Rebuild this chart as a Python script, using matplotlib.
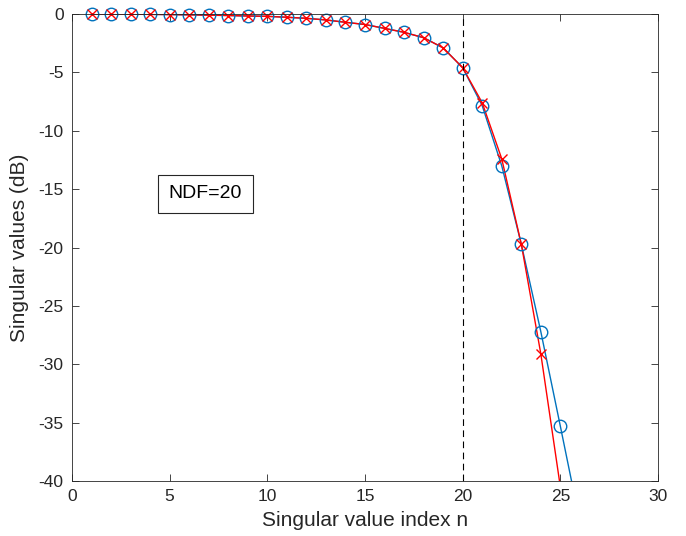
import matplotlib.pyplot as plt
import numpy as np

plt.rcParams["font.family"] = ["Liberation Sans", "DejaVu Sans"]
plt.rcParams["axes.unicode_minus"] = False

# singular values (dB)
n_blue = np.arange(1, 27)
sv_blue = np.array([0.0, -0.01, -0.02, -0.03, -0.05, -0.07, -0.1, -0.13, -0.17, -0.2,
                    -0.28, -0.37, -0.51, -0.71, -0.9, -1.23, -1.57, -2.03, -2.9, -4.6,
                    -7.85, -13.0, -19.7, -27.2, -35.3, -43.5])
n_red = np.arange(1, 26)
sv_red = np.array([0.0, -0.01, -0.02, -0.03, -0.05, -0.07, -0.1, -0.13, -0.17, -0.2,
                   -0.28, -0.37, -0.51, -0.71, -0.9, -1.23, -1.57, -2.03, -2.9, -4.6,
                   -7.6, -12.4, -19.7, -29.1, -40.5])
NDF = 20
YMIN, YMAX = -40, 0

BLUE = "#0072BD"
RED = "#FF0000"
AX_COLOR = "#262626"

fig = plt.figure(figsize=(6.86, 5.36), dpi=100)
ax = fig.add_axes([72 / 686, 1 - 481 / 536, (658 - 72) / 686, (481 - 14) / 536])

# lines are clipped to the axes, markers inside the range are not (MATLAB-like)
ax.plot(n_blue, sv_blue, color=BLUE, linewidth=1.0)
ax.plot(n_red, sv_red, color=RED, linewidth=1.0)
mb = sv_blue >= YMIN
mr = sv_red >= YMIN
ax.plot(n_blue[mb], sv_blue[mb], linestyle="none", marker="o", markersize=9,
        markerfacecolor="none", markeredgecolor=BLUE, markeredgewidth=1.0, clip_on=False)
ax.plot(n_red[mr], sv_red[mr], linestyle="none", marker="x", markersize=7,
        markeredgecolor=RED, markeredgewidth=1.0, clip_on=False)
ax.axvline(NDF, color="black", linestyle=(0, (6, 4)), linewidth=0.8)

ax.text(4.95, -15.4, f"NDF={NDF}", fontsize=14, va="center", ha="left",
        bbox=dict(boxstyle="square,pad=0.55", facecolor="white",
                  edgecolor=AX_COLOR, linewidth=0.8))

ax.set_xlim(0, 30)
ax.set_ylim(YMIN, YMAX)
ax.set_xticks(np.arange(0, 31, 5))
ax.set_yticks(np.arange(-40, 1, 5))
ax.tick_params(direction="in", top=True, right=True, labelsize=12.5,
               colors=AX_COLOR, length=5, width=0.6, pad=6)
for s in ax.spines.values():
    s.set_color(AX_COLOR)
    s.set_linewidth(0.6)

ax.set_xlabel("Singular value index n", fontsize=15, color=AX_COLOR, labelpad=5)
ax.set_ylabel("Singular values (dB)", fontsize=15, color=AX_COLOR, labelpad=7)

fig.savefig("out.png", dpi=100)
